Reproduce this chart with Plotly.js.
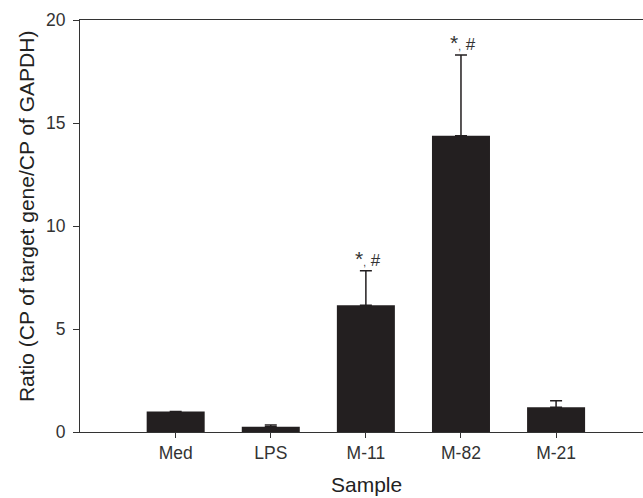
<!DOCTYPE html>
<html>
<head>
<meta charset="utf-8">
<script src="https://cdn.plot.ly/plotly-3.0.1.min.js"></script>
<style>html,body{margin:0;padding:0;background:#fff;overflow:hidden;width:643px;height:498px;}#chart{width:700px;height:498px;}</style>
</head>
<body>
<div id="chart"></div>
<script>
const categories = ["Med", "LPS", "M-11", "M-82", "M-21"];
const values = [1.0, 0.26, 6.15, 14.38, 1.2];
const errors = [0, 0.08, 1.68, 3.92, 0.32];
const marks = ["", "", "*, #", "*, #", ""];
const yTicks = [0, 5, 10, 15, 20];
const xTitle = "Sample";
const yTitle = "Ratio (CP of target gene/CP of GAPDH)";

const fontFam = "Liberation Sans, Arial, sans-serif";
const ink = "#333333";

const trace = {
  type: "bar",
  x: categories.map((c, i) => i),
  y: values,
  width: 0.61,
  marker: {color: "#231f20", line: {width: 0}},
  error_y: {type: "data", array: errors, visible: true, symmetric: false, arrayminus: errors.map(() => 0), color: "#231f20", thickness: 1.5, width: 6},
  hoverinfo: "none"
};

const annotations = [];
marks.forEach((m, i) => {
  if (!m) return;
  annotations.push({
    x: i, y: values[i] + errors[i], xref: "x", yref: "y",
    text: "<span style='font-size:21px'>*</span><span style='font-size:10px'>,</span> #", showarrow: false,
    xanchor: "center", yanchor: "bottom", xshift: 2, yshift: -1,
    font: {family: fontFam, size: 17, color: ink}
  });
});
annotations.push({
  text: yTitle, xref: "paper", yref: "paper", x: -0.09, y: 0.524,
  xanchor: "center", yanchor: "middle", textangle: -90, showarrow: false,
  font: {family: fontFam, size: 21, color: "#222"}
});
annotations.push({
  text: xTitle, xref: "paper", yref: "paper", x: 0.4767, y: -0.1286,
  xanchor: "center", yanchor: "middle", showarrow: false,
  font: {family: fontFam, size: 21, color: "#222"}
});

const layout = {
  width: 700, height: 498,
  margin: {l: 80, r: 20, t: 20, b: 66},
  paper_bgcolor: "#fff", plot_bgcolor: "#fff",
  showlegend: false,
  font: {family: fontFam, color: ink},
  xaxis: {
    range: [-1.006, 5.303],
    tickvals: categories.map((c, i) => i),
    ticktext: categories,
    showline: true, linecolor: ink, linewidth: 1, mirror: true,
    ticks: "outside", ticklen: 5, tickcolor: ink, tickwidth: 1,
    ticklabelstandoff: 0,
    showgrid: false, zeroline: false,
    tickfont: {family: fontFam, size: 17.5, color: ink}
  },
  yaxis: {
    range: [0, 20],
    tickvals: yTicks,
    ticktext: yTicks.map(String),
    showline: true, linecolor: ink, linewidth: 1,
    ticks: "outside", ticklen: 6, tickcolor: ink, tickwidth: 1,
    ticklabelstandoff: 4,
    showgrid: false, zeroline: false,
    tickfont: {family: fontFam, size: 17.5, color: ink}
  },
  annotations: annotations
};

Plotly.newPlot("chart", [trace], layout, {displayModeBar: false, staticPlot: true});
</script>
</body>
</html>
